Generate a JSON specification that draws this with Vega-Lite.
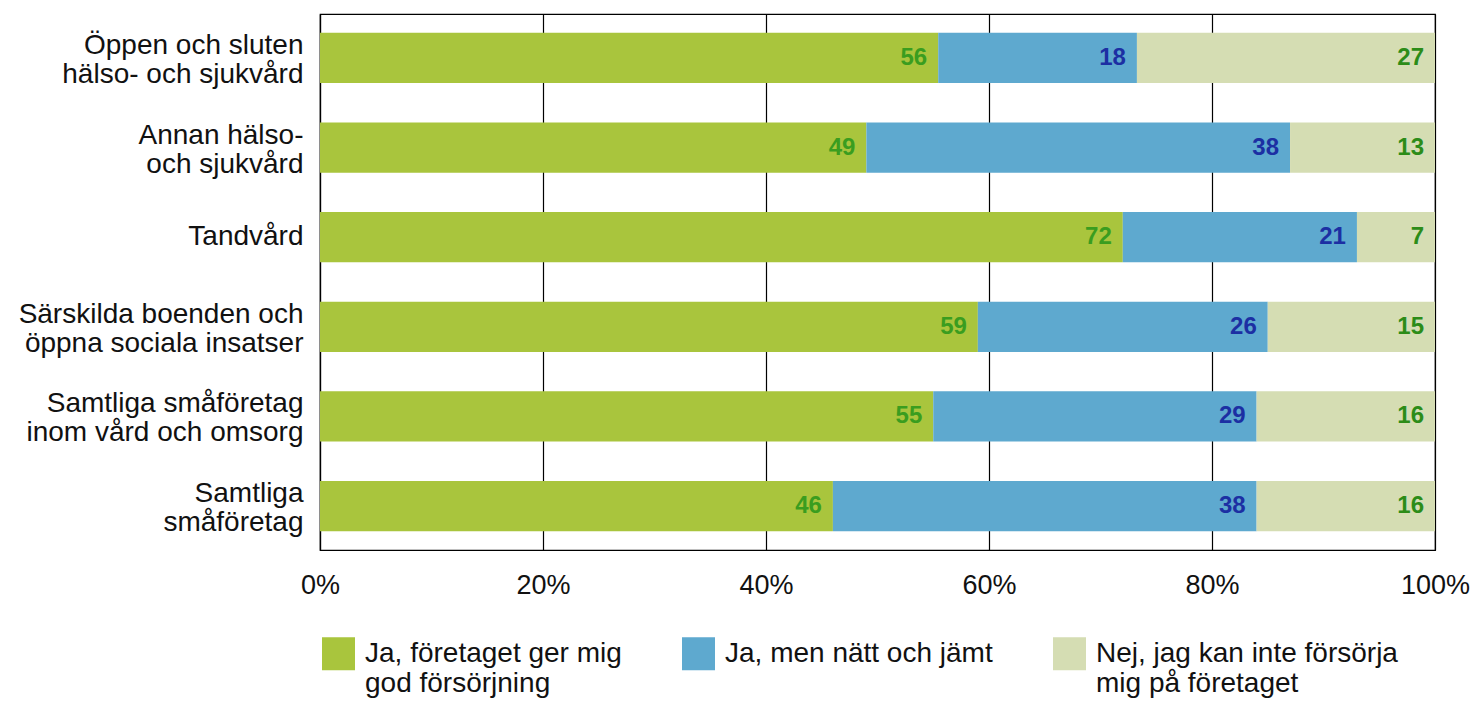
{
  "$schema": "https://vega.github.io/schema/vega-lite/v6.json",
  "width": 1115,
  "height": 536,
  "autosize": {"type": "none"},
  "padding": {"left": 320, "top": 14, "right": 42, "bottom": 156},
  "background": "white",
  "config": {
    "font": "Liberation Sans",
    "view": {"stroke": "black", "strokeWidth": 1.2},
    "axis": {"labelFont": "Liberation Sans", "labelColor": "#111111"}
  },
  "data": {
    "values": [
      {"category": "Öppen och sluten hälso- och sjukvård", "answer": "Ja, företaget ger mig god försörjning", "value": 56},
      {"category": "Öppen och sluten hälso- och sjukvård", "answer": "Ja, men nätt och jämt", "value": 18},
      {"category": "Öppen och sluten hälso- och sjukvård", "answer": "Nej, jag kan inte försörja mig på företaget", "value": 27},
      {"category": "Annan hälso- och sjukvård", "answer": "Ja, företaget ger mig god försörjning", "value": 49},
      {"category": "Annan hälso- och sjukvård", "answer": "Ja, men nätt och jämt", "value": 38},
      {"category": "Annan hälso- och sjukvård", "answer": "Nej, jag kan inte försörja mig på företaget", "value": 13},
      {"category": "Tandvård", "answer": "Ja, företaget ger mig god försörjning", "value": 72},
      {"category": "Tandvård", "answer": "Ja, men nätt och jämt", "value": 21},
      {"category": "Tandvård", "answer": "Nej, jag kan inte försörja mig på företaget", "value": 7},
      {"category": "Särskilda boenden och öppna sociala insatser", "answer": "Ja, företaget ger mig god försörjning", "value": 59},
      {"category": "Särskilda boenden och öppna sociala insatser", "answer": "Ja, men nätt och jämt", "value": 26},
      {"category": "Särskilda boenden och öppna sociala insatser", "answer": "Nej, jag kan inte försörja mig på företaget", "value": 15},
      {"category": "Samtliga småföretag inom vård och omsorg", "answer": "Ja, företaget ger mig god försörjning", "value": 55},
      {"category": "Samtliga småföretag inom vård och omsorg", "answer": "Ja, men nätt och jämt", "value": 29},
      {"category": "Samtliga småföretag inom vård och omsorg", "answer": "Nej, jag kan inte försörja mig på företaget", "value": 16},
      {"category": "Samtliga småföretag", "answer": "Ja, företaget ger mig god försörjning", "value": 46},
      {"category": "Samtliga småföretag", "answer": "Ja, men nätt och jämt", "value": 38},
      {"category": "Samtliga småföretag", "answer": "Nej, jag kan inte försörja mig på företaget", "value": 16}
    ]
  },
  "transform": [
    {"stack": "value", "groupby": ["category"], "sort": [{"field": "answer", "order": "ascending"}], "offset": "normalize", "as": ["x0", "x1"]}
  ],
  "encoding": {
    "y": {
      "field": "category",
      "type": "nominal",
      "sort": ["Öppen och sluten hälso- och sjukvård", "Annan hälso- och sjukvård", "Tandvård", "Särskilda boenden och öppna sociala insatser", "Samtliga småföretag inom vård och omsorg", "Samtliga småföretag"],
      "scale": {"paddingInner": 0.44, "paddingOuter": 0.21},
      "axis": {
        "title": null,
        "ticks": false,
        "domain": true,
        "domainColor": "black",
        "domainWidth": 1.2,
        "labelFontSize": 28,
        "labelLineHeight": 29,
        "labelPadding": 17,
        "labelLimit": 400,
        "labelAlign": "right",
        "labelBaseline": "middle",
        "labelOffset": {"condition": {"test": "datum.value == 'Tandvård'", "value": 0}, "value": -12},
        "labelExpr": "{'Öppen och sluten hälso- och sjukvård': ['Öppen och sluten', 'hälso- och sjukvård'], 'Annan hälso- och sjukvård': ['Annan hälso-', 'och sjukvård'], 'Tandvård': 'Tandvård', 'Särskilda boenden och öppna sociala insatser': ['Särskilda boenden och', 'öppna sociala insatser'], 'Samtliga småföretag inom vård och omsorg': ['Samtliga småföretag', 'inom vård och omsorg'], 'Samtliga småföretag': ['Samtliga', 'småföretag']}[datum.label]"
      }
    }
  },
  "layer": [
    {
      "mark": {"type": "bar"},
      "encoding": {
        "x": {
          "field": "x0",
          "type": "quantitative",
          "scale": {"domain": [0, 1], "nice": false, "zero": true},
          "axis": {
            "title": null,
            "format": "%",
            "values": [0, 0.2, 0.4, 0.6, 0.8, 1],
            "grid": true,
            "gridColor": "black",
            "gridWidth": 1.2,
            "gridOpacity": 1,
            "ticks": false,
            "domain": true,
            "domainColor": "black",
            "domainWidth": 1.2,
            "labelFontSize": 27,
            "labelPadding": 22,
            "labelFlush": false,
            "labelOverlap": false,
            "labelBound": false
          }
        },
        "x2": {"field": "x1"},
        "color": {
          "field": "answer",
          "type": "nominal",
          "scale": {
            "domain": ["Ja, företaget ger mig god försörjning", "Ja, men nätt och jämt", "Nej, jag kan inte försörja mig på företaget"],
            "range": ["#a9c53d", "#5ea9cf", "#d5ddb3"]
          },
          "legend": {
            "title": null,
            "orient": "none",
            "legendX": 2,
            "legendY": 623,
            "direction": "horizontal",
            "columns": 3,
            "symbolType": "square",
            "symbolSize": 1089,
            "symbolStrokeWidth": 0,
            "symbolOpacity": 1,
            "labelFont": "Liberation Sans",
            "labelFontSize": 28,
            "labelLineHeight": 29,
            "labelColor": "#111111",
            "labelLimit": 400,
            "labelOffset": 10,
            "labelBaseline": "middle",
            "columnPadding": 60,
            "labelExpr": "{'Ja, företaget ger mig god försörjning': ['Ja, företaget ger mig', 'god försörjning'], 'Ja, men nätt och jämt': ['Ja, men nätt och jämt', ' '], 'Nej, jag kan inte försörja mig på företaget': ['Nej, jag kan inte försörja', 'mig på företaget']}[datum.label]"
          }
        }
      }
    },
    {
      "mark": {"type": "text", "align": "right", "baseline": "middle", "dx": -11, "fontWeight": "bold", "fontSize": 24, "font": "Liberation Sans"},
      "encoding": {
        "x": {"field": "x1", "type": "quantitative"},
        "text": {"field": "value", "type": "quantitative"},
        "color": {
          "field": "answer",
          "type": "nominal",
          "scale": {
            "domain": ["Ja, företaget ger mig god försörjning", "Ja, men nätt och jämt", "Nej, jag kan inte försörja mig på företaget"],
            "range": ["#3a9d1f", "#1c2fa3", "#2c8c18"]
          },
          "legend": null
        }
      }
    }
  ],
  "resolve": {"scale": {"color": "independent"}}
}
